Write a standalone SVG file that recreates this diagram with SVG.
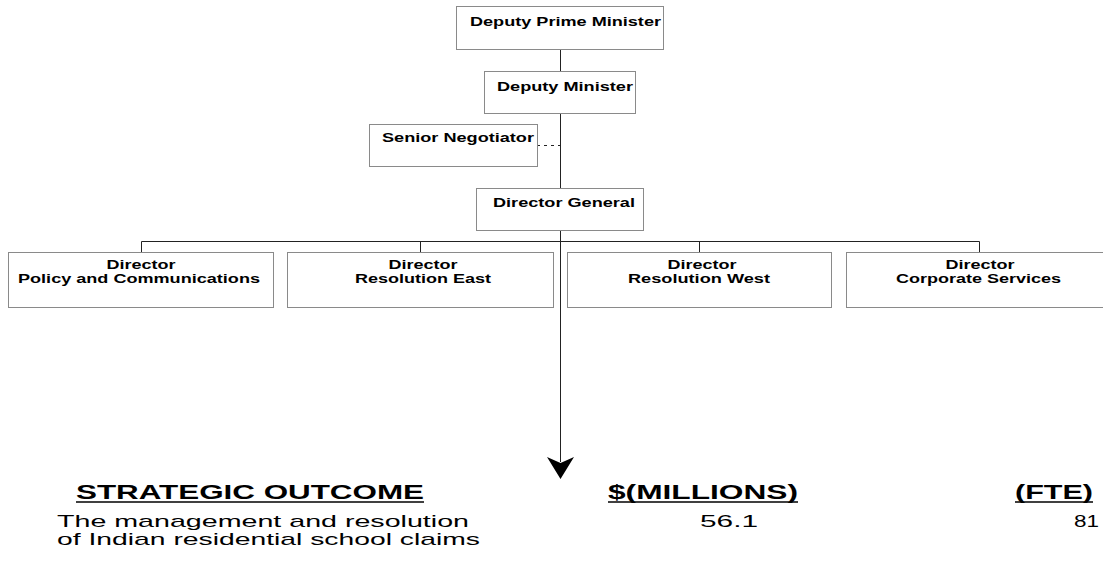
<svg xmlns="http://www.w3.org/2000/svg" width="1103" height="581" viewBox="0 0 1103 581">
<style>
.box{fill:#fff;stroke:#8a8a8a;stroke-width:1}
.lbl{font-family:"Liberation Sans",Arial,sans-serif;font-weight:bold;font-size:12px;fill:#000}
.con{stroke:#222;stroke-width:1;fill:none}
.hd{font-family:"Liberation Sans",Arial,sans-serif;font-weight:bold;font-size:20px;fill:#000}
.tx{font-family:"Liberation Sans",Arial,sans-serif;font-size:17px;fill:#000}
.ul{stroke:#000;stroke-width:1.5}
</style>
<rect width="1103" height="581" fill="#fff"/>
<g id="connectors">
<line class="con" x1="560.5" y1="49" x2="560.5" y2="71"/>
<line class="con" x1="560.5" y1="113" x2="560.5" y2="188"/>
<line class="con" x1="537" y1="145.5" x2="560" y2="145.5" stroke-dasharray="3,4"/>
<line class="con" x1="560.5" y1="230" x2="560.5" y2="462"/>
<polyline class="con" points="141.5,252 141.5,241.5 979.5,241.5 979.5,252"/>
<line class="con" x1="420.5" y1="241.5" x2="420.5" y2="252"/>
<line class="con" x1="699.5" y1="241.5" x2="699.5" y2="252"/>
<polygon points="547,457 560.5,463 574,457 560.5,479" fill="#000"/>
</g>
<g id="deputy-prime-minister">
<rect class="box" x="456.5" y="6.5" width="207" height="43"/>
<text class="lbl" x="470" y="26" textLength="191" lengthAdjust="spacingAndGlyphs">Deputy Prime Minister</text>
</g>
<g id="deputy-minister">
<rect class="box" x="484.5" y="71.5" width="151" height="42"/>
<text class="lbl" x="497" y="91" textLength="136" lengthAdjust="spacingAndGlyphs">Deputy Minister</text>
</g>
<g id="senior-negotiator">
<rect class="box" x="369.5" y="124.5" width="168" height="42"/>
<text class="lbl" x="382" y="142" textLength="152" lengthAdjust="spacingAndGlyphs">Senior Negotiator</text>
</g>
<g id="director-general">
<rect class="box" x="476.5" y="188.5" width="167" height="42"/>
<text class="lbl" x="493" y="207" textLength="142" lengthAdjust="spacingAndGlyphs">Director General</text>
</g>
<g id="director-policy">
<rect class="box" x="8.5" y="252.5" width="265" height="55"/>
<text class="lbl" x="141" y="269" text-anchor="middle" textLength="69" lengthAdjust="spacingAndGlyphs">Director</text>
<text class="lbl" x="139" y="283" text-anchor="middle" textLength="242" lengthAdjust="spacingAndGlyphs">Policy and Communications</text>
</g>
<g id="director-resolution-east">
<rect class="box" x="287.5" y="252.5" width="266" height="55"/>
<text class="lbl" x="423" y="269" text-anchor="middle" textLength="69" lengthAdjust="spacingAndGlyphs">Director</text>
<text class="lbl" x="423" y="283" text-anchor="middle" textLength="136" lengthAdjust="spacingAndGlyphs">Resolution East</text>
</g>
<g id="director-resolution-west">
<rect class="box" x="567.5" y="252.5" width="264" height="55"/>
<text class="lbl" x="702" y="269" text-anchor="middle" textLength="69" lengthAdjust="spacingAndGlyphs">Director</text>
<text class="lbl" x="699" y="283" text-anchor="middle" textLength="142" lengthAdjust="spacingAndGlyphs">Resolution West</text>
</g>
<g id="director-corporate">
<rect class="box" x="846.5" y="252.5" width="266" height="55"/>
<text class="lbl" x="980" y="269" text-anchor="middle" textLength="69" lengthAdjust="spacingAndGlyphs">Director</text>
<text class="lbl" x="978.5" y="283" text-anchor="middle" textLength="165" lengthAdjust="spacingAndGlyphs">Corporate Services</text>
</g>
<g id="table">
<text class="hd" x="76" y="499" textLength="348" lengthAdjust="spacingAndGlyphs">STRATEGIC OUTCOME</text>
<line class="ul" x1="76" y1="502" x2="424" y2="502"/>
<text class="hd" x="608" y="499" textLength="190" lengthAdjust="spacingAndGlyphs">$(MILLIONS)</text>
<line class="ul" x1="608" y1="502" x2="798" y2="502"/>
<text class="hd" x="1015" y="499" textLength="78" lengthAdjust="spacingAndGlyphs">(FTE)</text>
<line class="ul" x1="1015" y1="502" x2="1093" y2="502"/>
<text class="tx" x="57" y="527" textLength="412" lengthAdjust="spacingAndGlyphs">The management and resolution</text>
<text class="tx" x="57" y="545" textLength="423" lengthAdjust="spacingAndGlyphs">of Indian residential school claims</text>
<text class="tx" x="700" y="527" textLength="58" lengthAdjust="spacingAndGlyphs">56.1</text>
<text class="tx" x="1074" y="527" textLength="25" lengthAdjust="spacingAndGlyphs">81</text>
</g>
</svg>
